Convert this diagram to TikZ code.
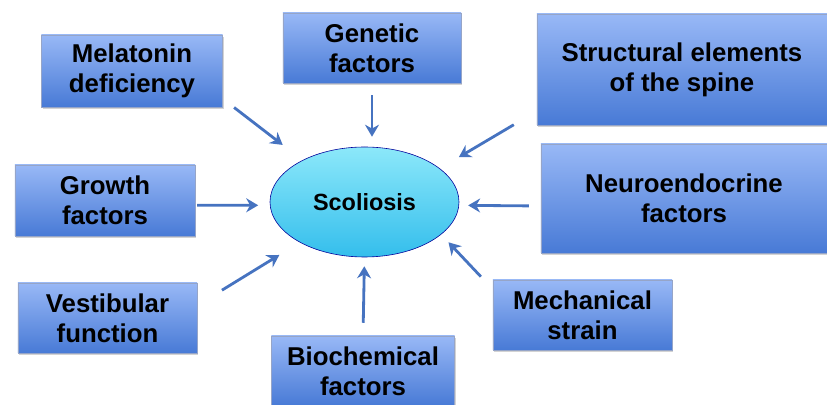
\documentclass[tikz,border=0pt]{standalone}
\usepackage{fontspec}
\setmainfont{Liberation Sans}
\usepackage{tikz}
\usetikzlibrary{arrows.meta,positioning,shapes.geometric,shadows}
\definecolor{boxtop}{RGB}{152,184,246}
\definecolor{boxbot}{RGB}{72,122,214}
\definecolor{boxedge}{RGB}{150,165,200}
\definecolor{elltop}{RGB}{140,232,250}
\definecolor{ellbot}{RGB}{52,190,236}
\definecolor{arrowblue}{RGB}{70,115,192}

\begin{document}
\begin{tikzpicture}[x=0.03cm, y=-0.03cm,
  factor/.style={draw=boxedge, line width=0.4pt, top color=boxtop, bottom color=boxbot,
    drop shadow={opacity=0.35, shadow xshift=0.04cm, shadow yshift=-0.07cm},
    align=center, inner sep=2pt, font=\fontsize{22}{25.5}\selectfont\bfseries},
  push/.style={-{Stealth[length=3.6mm,width=4.2mm]}, line width=2.4pt, arrowblue}]
  \useasboundingbox (0,0) rectangle (827,405);
  % centre
  \node[draw=blue!60!black, line width=0.5pt, ellipse, top color=elltop, bottom color=ellbot,
    minimum width=5.67cm, minimum height=3.3cm, font=\fontsize{20}{24}\selectfont\bfseries]
    (scol) at (364.5,202) {Scoliosis};
  % factors
  \node[factor, minimum width=5.43cm, minimum height=2.16cm] (mel) at (132,71) {Melatonin\\deficiency};
  \node[factor, minimum width=5.34cm, minimum height=2.1cm] (gen) at (372,48) {Genetic\\factors};
  \node[factor, minimum width=8.7cm, minimum height=3.33cm] (str) at (682,69.5) {Structural elements\\of the spine};
  \node[factor, minimum width=5.4cm, minimum height=2.13cm] (gro) at (105,200.5) {Growth\\factors};
  \node[factor, minimum width=8.58cm, minimum height=3.27cm] (neu) at (684,198.5) {Neuroendocrine\\factors};
  \node[factor, minimum width=5.37cm, minimum height=2.1cm] (ves) at (107.5,318) {Vestibular\\function};
  \node[factor, minimum width=5.37cm, minimum height=2.1cm] (mec) at (582.5,315) {Mechanical\\strain};
  \node[factor, minimum width=5.49cm, minimum height=2.1cm] (bio) at (363,371) {Biochemical\\factors};
  % arrows
  \draw[push, shorten <=0.43cm, shorten >=0.75cm] (mel.-17) -- (scol.146);
  \draw[push, shorten <=0.36cm, shorten >=0.3cm] (gen.south) -- (gen.south |- scol.north);
  \draw[push, shorten <=0.8cm, shorten >=0.66cm] (str.196) -- (scol.24);
  \draw[push, shorten <=0.06cm, shorten >=0.35cm] (gro.-3) -- (scol.182);
  \draw[push, shorten <=0.36cm, shorten >=0.27cm] (neu.183) -- (scol.-2);
  \draw[push, shorten <=0.87cm, shorten >=0.72cm] (ves.8) -- (scol.212);
  \draw[push, shorten <=0.52cm, shorten >=0.32cm] (mec.164) -- (scol.-23);
  \draw[push, shorten <=0.39cm, shorten >=0.27cm] (bio.north) -- (scol.south);
\end{tikzpicture}
\end{document}
